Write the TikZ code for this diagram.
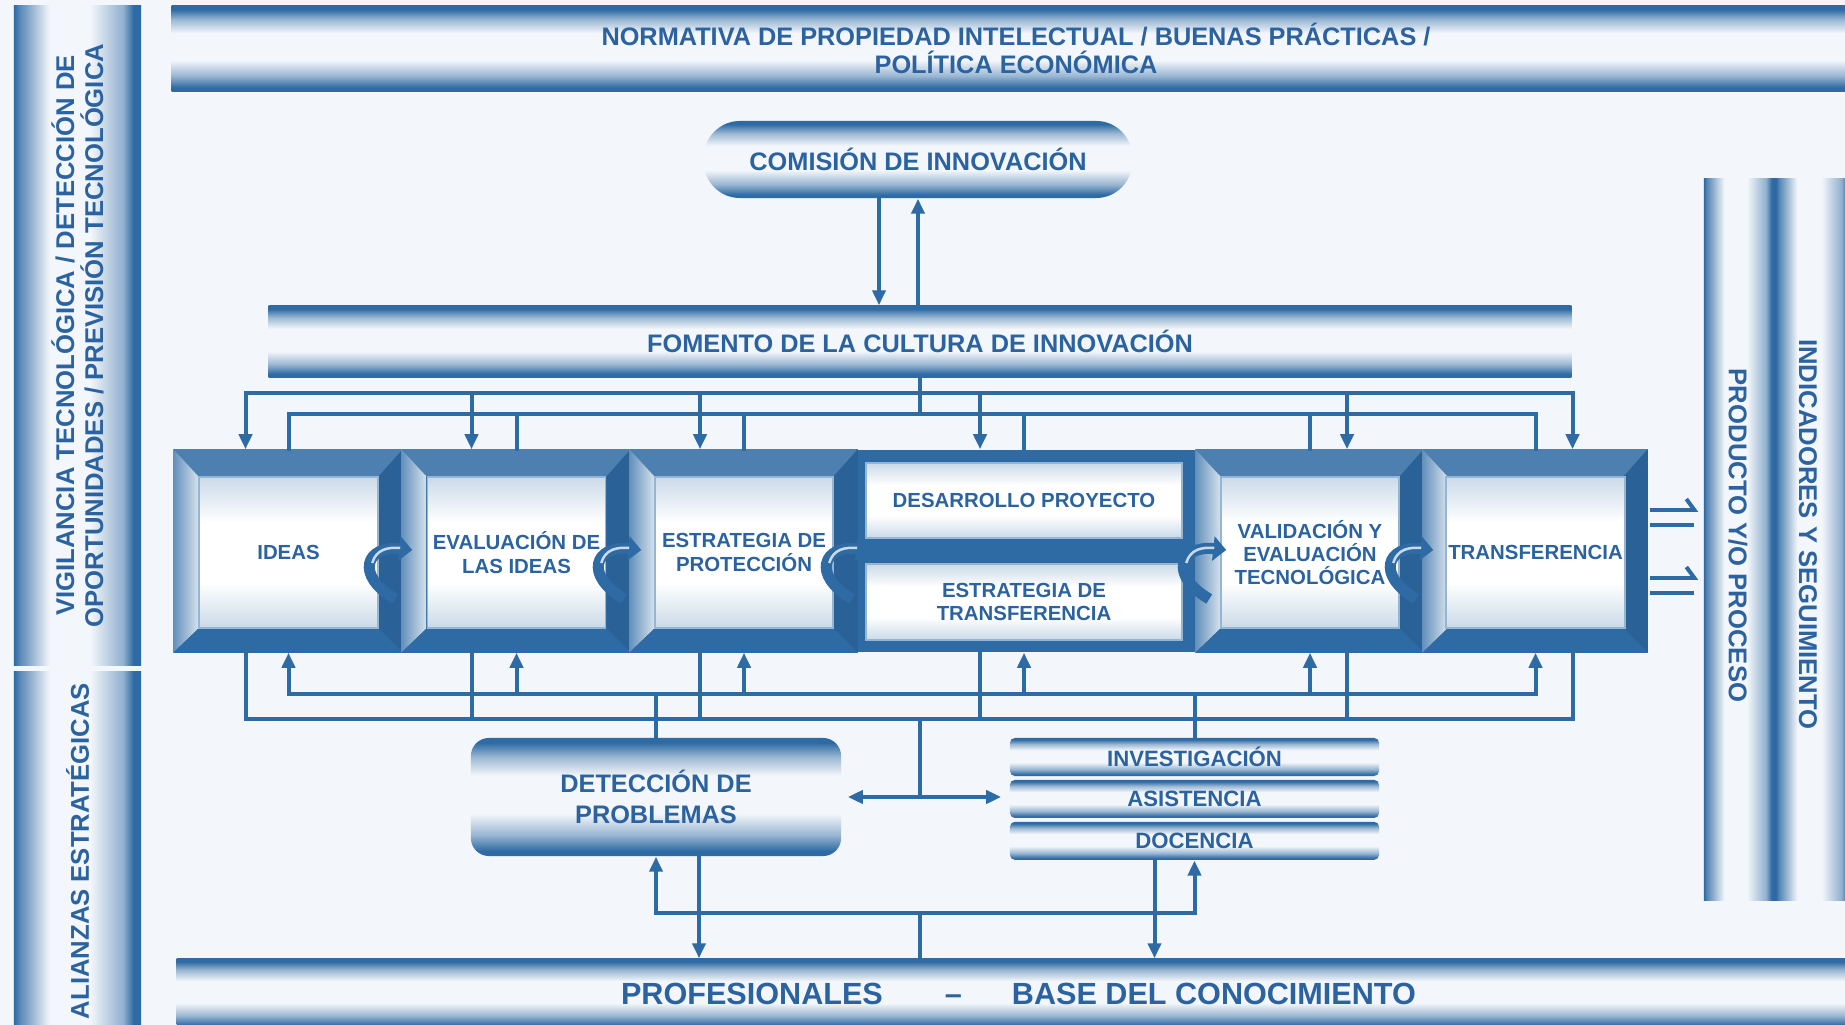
\documentclass[tikz,border=0pt]{standalone}
\usepackage{fontspec}
\newfontfamily\arial{Liberation Sans}
\usepackage{tikz}
\usetikzlibrary{arrows.meta, calc, positioning}

\definecolor{azul}{HTML}{2E6AA3}
\definecolor{tinta}{HTML}{2B62A0}
\definecolor{fondo}{HTML}{F3F6FA}

% Degradados de las bandas
\pgfdeclareverticalshading{bandav}{100bp}{color(0bp)=(azul); color(25bp)=(azul); color(27bp)=(azul); color(34bp)=(azul!45!fondo); color(43bp)=(fondo); color(59bp)=(fondo); color(67bp)=(azul!45!fondo); color(73bp)=(azul); color(100bp)=(azul)}
\pgfdeclarehorizontalshading{bandah}{100bp}{color(0bp)=(azul); color(25bp)=(azul); color(27bp)=(azul!80!fondo); color(39bp)=(fondo); color(55bp)=(fondo); color(68bp)=(azul!50!fondo); color(72bp)=(azul); color(100bp)=(azul)}
\pgfdeclareverticalshading{etapav}{100bp}{color(0bp)=(azul!25!white); color(25bp)=(azul!25!white); color(40bp)=(white); color(60bp)=(white); color(75bp)=(azul!25!white); color(100bp)=(azul!25!white)}

\tikzset{
  texto/.style={text=tinta, align=center, inner sep=0pt},
  banda/.style={shade, shading=bandav, texto, font=\arial\bfseries\fontsize{7.2}{8}\selectfont},
  columna/.style={shade, shading=bandah, inner sep=0pt},
  rotulo/.style={texto, font=\arial\bfseries\fontsize{7.3}{8.25}\selectfont},
  marco/.style={minimum height=2.02cm, inner sep=0pt},
  etapa/.style={shade, shading=etapav, draw=azul!50!white, line width=0.4pt, texto, minimum height=1.51cm, font=\arial\bfseries\fontsize{5.8}{6.6}\selectfont},
  fila/.style={shade, shading=bandav, rounded corners=0.05cm, texto, minimum width=3.69cm, minimum height=0.38cm, font=\arial\bfseries\fontsize{6.3}{7}\selectfont},
  linea/.style={draw=azul, line width=0.04cm, line cap=rect},
  flecha/.style={linea, -{Triangle[length=0.15cm, width=0.13cm]}},
  flechas/.style={linea, {Triangle[length=0.15cm, width=0.13cm]}-{Triangle[length=0.15cm, width=0.13cm]}},
  giro/.style={draw=azul, line width=0.11cm, -{Triangle[length=0.13cm, width=0.24cm]}},
  brillo/.style={draw=azul!25!white, line width=0.025cm}
}

% Marco biselado de una etapa
\newcommand{\bisel}[1]{%
  \fill[azul!85!white] (#1.north west) -- (#1.north east) -- ($(#1.north east)+(-24,27)$) -- ($(#1.north west)+(25,27)$) -- cycle;
  \shade[left color=azul!75!white, right color=azul!20!white] (#1.north west) -- ($(#1.north west)+(25,27)$) -- ($(#1.south west)+(25,-24)$) -- (#1.south west) -- cycle;
  \fill[azul!92!black] (#1.north east) -- (#1.south east) -- ($(#1.south east)+(-24,-24)$) -- ($(#1.north east)+(-24,27)$) -- cycle;
  \fill[azul] (#1.south west) -- (#1.south east) -- ($(#1.south east)+(-24,-24)$) -- ($(#1.south west)+(25,-24)$) -- cycle;
}

\begin{document}
\begin{tikzpicture}[x=0.01cm, y=-0.01cm]
  % Fondo
  \fill[fondo] (0,0) rectangle (1845,1025);
  \useasboundingbox (0,0) rectangle (1845,1025);

  % Barras laterales
  \node[columna, minimum width=1.27cm, minimum height=6.59cm] (vigilancia) at (77.5,335.5) {};
  \node[rotulo, rotate=90] (vigilanciatxt) at (vigilancia) {VIGILANCIA TECNOLÓGICA / DETECCIÓN DE\\OPORTUNIDADES / PREVISIÓN TECNOLÓGICA};
  \node[columna, minimum width=1.27cm, minimum height=3.58cm] (alianzas) at (77.5,851) {};
  \node[rotulo, rotate=90] (alianzastxt) at (alianzas) {ALIANZAS ESTRATÉGICAS};
  \node[columna, minimum width=0.72cm, minimum height=7.21cm] (producto) at (1740,539.5) {};
  \node[rotulo, rotate=-90] (productotxt) at ($(producto)+(-2,-4)$) {PRODUCTO Y/O PROCESO};
  \node[columna, minimum width=0.76cm, minimum height=7.21cm] (indicadores) at (1814,539.5) {};
  \node[rotulo, rotate=-90] (indicadorestxt) at ($(indicadores)+(-6,-5)$) {INDICADORES Y SEGUIMIENTO};

  % Bandas horizontales
  \node[banda, minimum width=16.88cm, minimum height=0.85cm] (normativa) at (1016,48.5) {NORMATIVA DE PROPIEDAD INTELECTUAL / BUENAS PRÁCTICAS /\\POLÍTICA ECONÓMICA};
  \node[banda, rounded corners=0.36cm, minimum width=4.28cm, minimum height=0.77cm] (comision) at (918,159.5) {COMISIÓN DE INNOVACIÓN};
  \node[banda, minimum width=13.02cm, minimum height=0.71cm] (fomento) at (920,341.5) {FOMENTO DE LA CULTURA DE INNOVACIÓN};

  % Bloque del proceso
  \node[fill=azul, minimum width=14.73cm, minimum height=2.02cm, inner sep=0pt] (proceso) at (910.5,551) {};
  \node[marco, minimum width=2.28cm] (m1) at (288,551) {};
  \node[marco, minimum width=2.28cm] (m2) at (516,551) {};
  \node[marco, minimum width=2.27cm] (m3) at (743.5,551) {};
  \node[marco, minimum width=3.39cm] (m4) at (1026.5,551) {};
  \node[marco, minimum width=2.27cm] (m5) at (1309.5,551) {};
  \node[marco, minimum width=2.24cm] (m6) at (1535,551) {};
  \bisel{m1} \bisel{m2} \bisel{m3} \bisel{m5} \bisel{m6}

  \node[etapa, minimum width=1.79cm] (ideas) at ($(m1)+(0.5,1.5)$) {IDEAS};
  \node[etapa, minimum width=1.78cm] (evaluacion) at ($(m2)+(0.5,1.5)$) {EVALUACIÓN DE\\LAS IDEAS};
  \node[etapa, minimum width=1.78cm] (proteccion) at ($(m3)+(0.5,1.5)$) {ESTRATEGIA DE\\PROTECCIÓN};
  \node[etapa, minimum width=3.16cm, minimum height=0.75cm] (desarrollo) at (1024,500.5) {DESARROLLO PROYECTO};
  \node[etapa, minimum width=3.16cm, minimum height=0.76cm] (estrategia) at (1024,602) {ESTRATEGIA DE\\TRANSFERENCIA};
  \node[etapa, minimum width=1.78cm] (validacion) at ($(m5)+(0.5,1.5)$) {VALIDACIÓN Y\\EVALUACIÓN\\TECNOLÓGICA};
  \node[etapa, minimum width=1.79cm] (transferencia) at ($(m6)+(0.5,1.5)$) {TRANSFERENCIA};

  % Flechas curvas entre etapas
  \foreach \m/\d in {m2/11, m3/12, m4/13, m5/31, m6/11} {
    \draw[giro] ($(\m.west)+(\d-17,48)$) .. controls ($(\m.west)+(\d-58,24)$) and ($(\m.west)+(\d-46,-6)$) .. ($(\m.west)+(\d,-1)$);
    \draw[brillo] ($(\m.west)+(\d-40,12)$) .. controls ($(\m.west)+(\d-36,-2)$) and ($(\m.west)+(\d-24,-4)$) .. ($(\m.west)+(\d-12,-3)$);
  }

  % Comision y fomento
  \draw[flecha] ($(comision.south)+(-39,0)$) -- ($(comision.south |- fomento.north)+(-39,0)$);
  \draw[flecha] (fomento.north -| comision.south) -- (comision.south);

  % Buses superiores
  \coordinate (busA) at (0,393);
  \coordinate (busB) at (0,414);
  \draw[linea] (fomento.south) -- (fomento.south |- busB);
  \draw[linea] ($(ideas.north |- busA)+(-43,0)$) -- ($(transferencia.north |- busA)+(37,0)$);
  \draw[linea] (ideas.north |- busB) -- (transferencia.north |- busB);
  \foreach \n/\d in {ideas/-43, evaluacion/-45, proteccion/-44, desarrollo/-44, validacion/37, transferencia/37} {
    \draw[flecha] ($(\n.north |- busA)+(\d,0)$) -- ($(\n.north |- proceso.north)+(\d,0)$);
    \draw[linea] (\n.north |- proceso.north) -- (\n.north |- busB);
  }

  % Buses inferiores
  \coordinate (busD) at (0,694);
  \coordinate (busC) at (0,719);
  \draw[linea] ($(ideas.south |- busC)+(-43,0)$) -- ($(transferencia.south |- busC)+(37,0)$);
  \draw[linea] (ideas.south |- busD) -- (transferencia.south |- busD);
  \foreach \n/\d in {ideas/-43, evaluacion/-45, proteccion/-44, desarrollo/-44, validacion/37, transferencia/37} {
    \draw[linea] ($(\n.south |- proceso.south)+(\d,0)$) -- ($(\n.south |- busC)+(\d,0)$);
    \draw[flecha] (\n.south |- busD) -- (\n.south |- proceso.south);
  }

  % Deteccion de problemas e investigacion
  \node[banda, rounded corners=0.18cm, minimum width=3.7cm, minimum height=1.18cm, font=\arial\bfseries\fontsize{7.2}{8.8}\selectfont] (problemas) at (656,797) {DETECCIÓN DE\\PROBLEMAS};
  \node[fila] (investigacion) at (1194.5,757) {INVESTIGACIÓN};
  \node[fila, below=0.025cm of investigacion] (asistencia) {ASISTENCIA};
  \node[fila, below=0.025cm of asistencia] (docencia) {DOCENCIA};

  \draw[linea] (problemas.north |- busD) -- (problemas.north);
  \draw[linea] (investigacion.north |- busD) -- (investigacion.north);
  \draw[linea] (fomento.south |- busC) -- (fomento.south |- problemas.east);
  \draw[flechas, shorten <=0.06cm, shorten >=0.08cm] (problemas.east) -- (problemas.east -| investigacion.west);

  % Base
  \node[banda, minimum width=16.83cm, minimum height=0.69cm, font=\arial\bfseries\fontsize{8.7}{10}\selectfont] (profesionales) at (1018.5,993.5) {PROFESIONALES\hspace{0.62cm}–\hspace{0.5cm}BASE DEL CONOCIMIENTO};

  \coordinate (busE) at (0,913);
  \draw[linea] (problemas.south |- busE) -- (docencia.south |- busE);
  \draw[flecha] (problemas.south |- busE) -- (problemas.south);
  \draw[flecha] ($(problemas.south)+(43,0)$) -- ($(problemas.south |- profesionales.north)+(43,0)$);
  \draw[flecha] (docencia.south |- busE) -- (docencia.south);
  \draw[flecha] ($(docencia.south)+(-40,0)$) -- ($(docencia.south |- profesionales.north)+(-40,0)$);
  \draw[linea] (fomento.south |- busE) -- (fomento.south |- profesionales.north);

  % Salida hacia producto
  \foreach \dy in {-41, 27} {
    \draw[linea, -{Straight Barb[harpoon, length=0.08cm, width=0.22cm]}] ($(m6.east)+(4,\dy)$) -- ($(m6.east -| producto.west)+(-5,\dy)$);
    \draw[linea] ($(m6.east)+(4,\dy+15)$) -- ($(m6.east -| producto.west)+(-11,\dy+15)$);
  }
\end{tikzpicture}
\end{document}
